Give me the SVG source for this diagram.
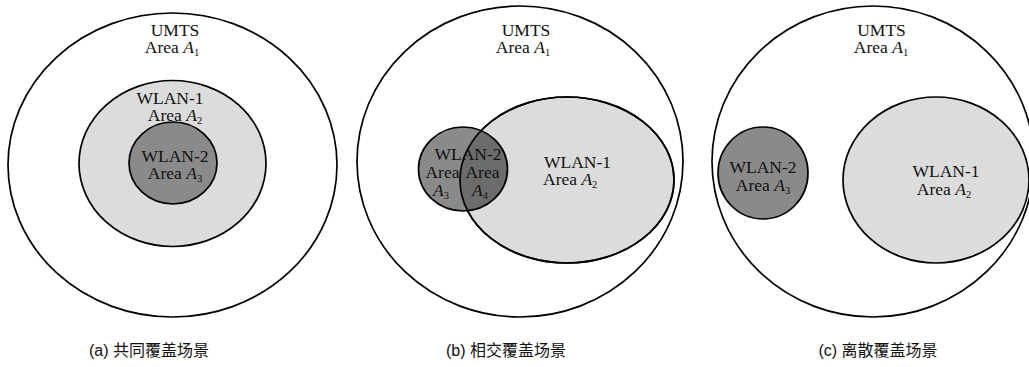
<svg xmlns="http://www.w3.org/2000/svg" width="1029" height="367" viewBox="0 0 1029 367">
<style>
.outer{fill:none;stroke:#000;stroke-width:1.7}
.light{fill:#dcdcdc;stroke:#000;stroke-width:1.7}
.dark{fill:#8a8a8a;stroke:#000;stroke-width:1.7}
.line{fill:none;stroke:#000;stroke-width:1.7}
.t{font-family:"Liberation Serif","Times New Roman",serif;font-size:17.5px;fill:#111;text-anchor:middle}
.s{text-anchor:start}
.i{font-style:italic}
.sub{font-size:10.5px}
.cap{font-family:"Liberation Sans","Noto Sans CJK SC",sans-serif;font-size:16px;fill:#111;text-anchor:middle}
</style>
<defs>
<clipPath id="clipW1b"><ellipse cx="567" cy="180" rx="107" ry="83"/></clipPath>
</defs>
<rect width="1029" height="367" fill="#fff"/>

<!-- Panel (a) -->
<g id="a-umts">
<ellipse class="outer" cx="172.5" cy="165" rx="164.5" ry="152"/>
<text class="t" x="175" y="36">UMTS</text>
<text class="t" x="172" y="53">Area <tspan class="i">A</tspan><tspan class="sub" dy="3">1</tspan></text>
</g>
<g id="a-wlan1">
<ellipse class="light" cx="172.5" cy="163.5" rx="93.5" ry="83"/>
<text class="t" x="170" y="104">WLAN-1</text>
<text class="t" x="175" y="121">Area <tspan class="i">A</tspan><tspan class="sub" dy="3">2</tspan></text>
</g>
<g id="a-wlan2">
<ellipse class="dark" cx="173" cy="163" rx="44" ry="41"/>
<text class="t" x="175" y="162">WLAN-2</text>
<text class="t" x="175" y="179">Area <tspan class="i">A</tspan><tspan class="sub" dy="3">3</tspan></text>
</g>

<!-- Panel (b) -->
<g id="b-umts">
<ellipse class="outer" cx="520" cy="161.5" rx="163" ry="155.5"/>
<text class="t" x="526" y="36">UMTS</text>
<text class="t" x="523" y="53">Area <tspan class="i">A</tspan><tspan class="sub" dy="3">1</tspan></text>
</g>
<g id="b-wlan1">
<ellipse class="light" cx="567" cy="180" rx="107" ry="83"/>
</g>
<g id="b-wlan2">
<ellipse fill="#8a8a8a" cx="463" cy="169" rx="44.5" ry="42"/>
<ellipse fill="#6c6c6c" cx="463" cy="169" rx="44.5" ry="42" clip-path="url(#clipW1b)"/>
<ellipse class="line" cx="567" cy="180" rx="107" ry="83"/>
<ellipse class="line" cx="463" cy="169" rx="44.5" ry="42"/>
<text class="t" x="468" y="160">WLAN-2</text>
<text class="t" x="442.5" y="178">Area</text>
<text class="t" x="482.5" y="178">Area</text>
<text class="t" x="441" y="196"><tspan class="i">A</tspan><tspan class="sub" dy="3">3</tspan></text>
<text class="t" x="480" y="196"><tspan class="i">A</tspan><tspan class="sub" dy="3">4</tspan></text>
</g>
<g id="b-wlan1-label">
<text class="t s" x="544" y="168">WLAN-1</text>
<text class="t s" x="543" y="185">Area <tspan class="i">A</tspan><tspan class="sub" dy="3">2</tspan></text>
</g>

<!-- Panel (c) -->
<g id="c-umts">
<ellipse class="outer" cx="873" cy="161.5" rx="161" ry="155.5"/>
<text class="t" x="881.5" y="36">UMTS</text>
<text class="t" x="881" y="53">Area <tspan class="i">A</tspan><tspan class="sub" dy="3">1</tspan></text>
</g>
<g id="c-wlan2">
<ellipse class="dark" cx="763" cy="173" rx="45" ry="46"/>
<text class="t" x="763" y="173">WLAN-2</text>
<text class="t" x="763" y="191">Area <tspan class="i">A</tspan><tspan class="sub" dy="3">3</tspan></text>
</g>
<g id="c-wlan1">
<ellipse class="light" cx="936" cy="180" rx="93" ry="83"/>
<text class="t" x="946" y="177">WLAN-1</text>
<text class="t" x="944" y="195">Area <tspan class="i">A</tspan><tspan class="sub" dy="3">2</tspan></text>
</g>

<g id="connectors"/>

<g id="captions">
<text class="cap" x="149" y="356">(a) 共同覆盖场景</text>
<text class="cap" x="506" y="356">(b) 相交覆盖场景</text>
<text class="cap" x="878" y="356">(c) 离散覆盖场景</text>
</g>
</svg>
